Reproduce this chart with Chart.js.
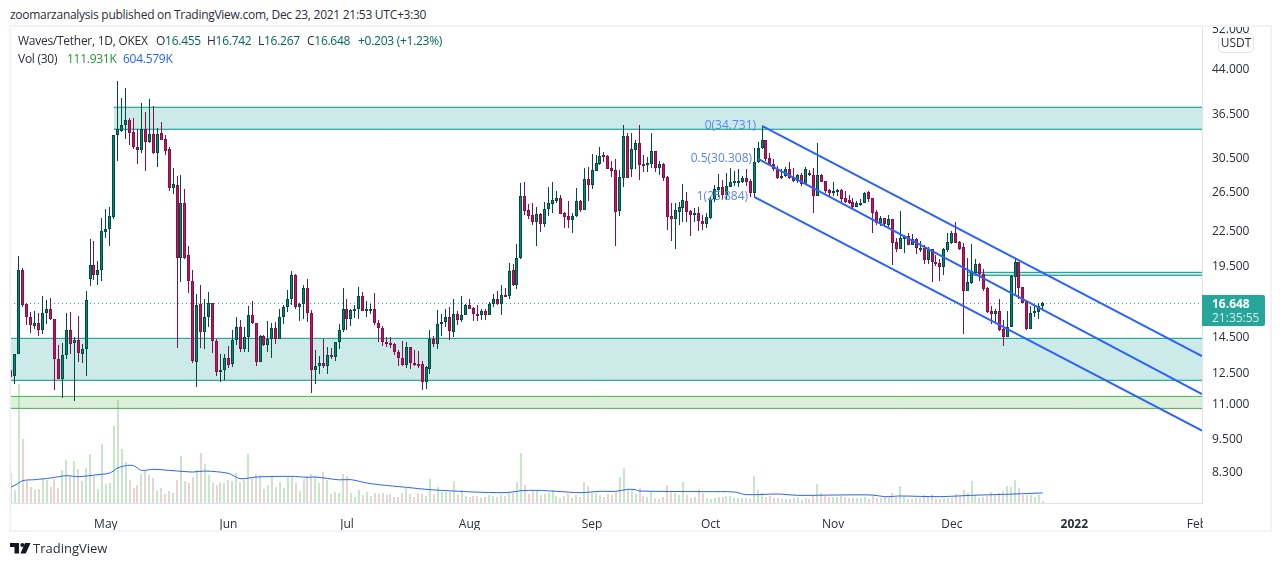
<!DOCTYPE html>
<html>
<head>
<meta charset="utf-8">
<title>Waves/Tether</title>
<script src="https://cdn.jsdelivr.net/npm/chart.js@4"></script>
<style>
  html, body { margin: 0; padding: 0; background: #fff; }
  body { width: 1280px; height: 566px; position: relative; overflow: hidden; font-family: "Open Sans", sans-serif; color: #2a2e39; }
  canvas { position: absolute; left: 0; top: 0; }
  .t { position: absolute; white-space: nowrap; font-size: 12px; line-height: 16px; }
  .n { letter-spacing: -0.27px; }
  #cover-top { position: absolute; left: 0; top: 0; width: 1280px; height: 27px; background: #fff; }
  #cover-feb { position: absolute; left: 1203px; top: 504px; width: 66px; height: 25px; background: #fff; }
  #frame { position: absolute; left: 9px; top: 25px; width: 1259px; height: 503px; border: 2px solid #f0f3fa; pointer-events: none; }
  #usdt { position: absolute; left: 1218px; top: 33px; width: 34px; height: 18px; border: 1px solid #e0e3eb; border-radius: 5px; background: #fff; font-size: 12px; line-height: 18px; text-align: center; }
  #tag { position: absolute; left: 1202px; top: 295px; width: 63px; height: 31px; background: #26a69a; border-radius: 0 2px 2px 0; }
</style>
</head>
<body>
<canvas id="chart" width="1280" height="566"></canvas>
<div id="cover-top"></div>
<div id="cover-feb"></div>
<div id="frame"></div>

<div class="t n" style="left:10px;top:7px">zoomarzanalysis published on TradingView.com, Dec 23, 2021 21:53 UTC+3:30</div>
<div class="t n" style="left:18px;top:33px">Waves/Tether, 1D, OKEX</div>
<div class="t n" style="left:156px;top:33px">O<span style="color:#00695c">16.455</span></div>
<div class="t n" style="left:207px;top:33px">H<span style="color:#00695c">16.742</span></div>
<div class="t n" style="left:258px;top:33px">L<span style="color:#00695c">16.267</span></div>
<div class="t n" style="left:307px;top:33px">C<span style="color:#00695c">16.648</span></div>
<div class="t n" style="left:358px;top:33px;color:#00695c">+0.203 (+1.23%)</div>
<div class="t n" style="left:18px;top:51px">Vol (30)</div>
<div class="t n" style="left:67px;top:51px;color:#22982f">111.931K</div>
<div class="t n" style="left:123px;top:51px;color:#2962ff">604.579K</div>

<div id="usdt">USDT</div>
<div id="tag"></div>
<div class="t" style="left:1212px;top:296px;color:#fff;font-weight:700">16.648</div>
<div class="t" style="left:1212px;top:310px;color:#d4eeeb">21:35:55</div>

<svg style="position:absolute;left:10px;top:543px" width="21" height="11" viewBox="0 0 21 11">
  <path fill="#131722" d="M0 0h9v10.5h-4.5v-6.5h-4.500z"/>
  <circle fill="#131722" cx="12.300" cy="2" r="2"/>
  <path fill="#131722" d="M15 0h5.500l-4.700 10.500h-5.400z"/>
</svg>
<div class="t" style="left:33px;top:540px;font-size:13px">TradingView</div>

<script>
// daily candles, oldest first; x is the day index
const opens = [
  12.63,12.33,13.53,19.16,16.60,15.71,15.17,15.38,14.94,16.01,
  16.24,15.58,13.25,12.20,13.47,14.94,14.14,14.30,13.53,13.81,
  18.44,19.49,18.72,19.16,22.42,22.62,23.84,33.40,34.00,34.82,
  35.55,33.87,31.78,31.43,34.25,32.53,33.54,31.00,33.73,32.85,
  31.52,26.89,27.15,20.14,25.20,20.31,18.31,13.07,16.58,14.80,
  15.77,16.65,14.28,12.54,12.66,13.30,12.98,14.34,15.13,13.80,
  14.46,15.90,15.38,13.07,14.54,14.04,14.40,15.03,14.40,15.71,
  16.44,16.93,18.72,16.42,16.60,17.72,16.03,12.66,12.86,13.03,
  12.86,13.47,13.34,14.22,14.94,16.24,15.58,16.15,16.24,17.20,
  16.15,16.21,16.30,15.38,15.06,14.22,14.12,14.06,13.64,13.30,
  12.91,13.93,13.03,12.98,12.93,12.03,12.70,14.40,14.08,15.32,
  15.43,15.77,14.80,15.97,15.53,15.90,16.51,16.32,15.93,15.84,
  16.12,15.90,16.63,16.99,16.58,17.27,17.18,19.16,17.99,20.06,
  25.94,24.48,23.97,23.35,24.07,23.12,24.58,25.17,25.50,25.73,
  24.17,23.87,23.55,23.90,25.41,24.54,27.83,27.23,28.85,29.70,
  30.75,30.62,29.13,28.89,24.41,27.98,33.31,29.09,31.43,32.31,
  29.66,29.62,29.66,31.26,29.17,29.66,28.10,23.87,23.61,24.34,
  24.75,25.41,24.41,24.11,24.21,23.45,23.12,23.71,25.62,26.63,
  26.93,26.08,26.93,27.49,27.56,27.56,27.94,27.60,26.33,29.86,
  31.65,32.72,30.37,29.66,28.89,27.98,28.22,29.05,28.06,27.64,
  28.34,27.30,28.57,28.34,26.01,28.34,27.60,26.63,26.37,26.41,
  26.63,25.73,25.52,25.34,24.82,25.20,25.27,26.41,25.73,24.27,
  23.19,23.68,23.09,23.58,21.44,20.88,21.77,22.04,21.23,21.71,
  20.91,20.91,19.92,20.83,19.81,19.68,19.38,20.80,21.41,22.28,
  21.50,21.00,17.54,18.14,18.92,19.60,18.84,17.74,16.12,15.95,
  16.12,14.96,14.50,15.11,18.59,19.73,17.79,16.72,15.00,16.01,
  16.10,16.455
]
const highs = [
  12.63,13.53,20.26,19.27,16.65,16.06,16.12,16.03,17.16,16.88,
  17.02,15.58,14.01,14.16,16.03,16.06,14.50,15.79,14.06,17.52,
  21.74,21.53,19.84,23.71,24.61,24.85,33.40,41.85,39.00,40.65,
  35.89,35.89,34.29,38.14,36.80,38.84,37.72,34.39,35.26,33.40,
  31.78,29.13,28.22,28.30,26.70,21.12,19.16,17.30,17.94,16.97,
  17.43,16.65,14.40,13.53,13.53,13.95,14.94,15.73,15.53,15.11,
  16.47,16.79,15.38,14.60,14.60,15.47,15.36,15.42,16.24,16.53,
  17.59,19.06,18.84,16.70,17.94,18.41,16.19,13.72,13.38,14.40,
  13.91,13.83,14.22,15.28,17.74,16.99,16.30,16.53,17.86,17.46,
  16.81,16.63,17.38,15.53,15.17,14.46,14.48,14.14,13.72,14.26,
  14.22,13.93,13.72,13.66,13.14,12.84,14.92,14.54,16.19,15.97,
  16.26,16.42,16.99,16.15,17.20,16.60,16.93,16.42,16.51,16.24,
  16.24,16.72,17.35,17.54,17.94,17.77,19.65,19.60,21.26,27.38,
  27.49,25.10,25.20,24.78,24.17,25.37,26.93,27.49,26.55,26.08,
  24.34,25.41,24.17,26.82,25.55,29.13,29.25,30.92,30.79,31.78,
  31.17,30.75,30.03,30.24,28.93,34.85,33.68,33.78,32.76,34.85,
  30.79,30.58,33.78,31.34,30.03,29.74,28.18,25.20,25.20,25.37,
  27.30,26.45,24.51,24.75,24.85,24.01,24.17,25.83,27.19,28.45,
  27.76,28.61,29.17,28.85,29.01,28.22,29.01,27.83,31.65,32.45,
  34.73,32.76,31.00,30.24,29.45,29.05,29.33,29.91,29.13,28.45,
  28.61,29.33,28.93,29.13,32.31,28.45,27.68,26.78,27.49,26.78,
  26.74,26.48,26.08,25.73,25.44,25.62,26.37,26.52,25.76,24.51,
  23.94,23.74,24.01,23.61,21.80,24.41,22.10,22.25,22.16,21.80,
  21.59,21.17,21.06,20.88,20.34,19.98,20.94,22.31,22.50,23.32,
  21.53,21.41,20.06,21.29,20.00,19.65,19.24,17.79,16.47,16.24,
  16.93,15.53,16.15,18.72,20.06,19.79,17.84,16.88,16.47,16.53,
  16.65,16.742
]
const lows = [
  12.28,11.95,13.53,16.42,15.21,14.74,14.96,14.54,14.70,15.32,
  15.53,11.62,12.20,11.26,13.25,13.49,11.12,13.07,13.02,12.33,
  17.91,18.34,17.96,18.28,21.86,21.15,23.64,30.07,33.87,32.95,
  32.09,31.56,29.70,31.09,28.85,32.40,30.92,29.33,32.76,30.79,
  26.55,26.19,13.85,18.21,20.03,17.40,13.01,11.79,13.83,13.81,
  15.11,13.57,12.33,12.03,12.11,12.72,12.80,14.00,13.62,13.62,
  13.62,15.32,12.86,13.07,13.95,13.62,13.30,14.06,14.40,15.32,
  16.08,16.53,16.24,15.49,15.64,15.42,11.47,11.92,12.42,12.77,
  12.42,13.23,13.12,13.80,14.80,14.90,15.17,15.68,15.62,16.15,
  15.75,15.92,15.24,14.20,13.95,13.91,13.83,13.45,12.86,12.87,
  12.72,12.70,12.87,12.77,11.62,11.69,12.42,13.89,13.80,14.54,
  15.11,14.34,14.46,15.24,15.43,15.86,16.24,15.49,15.49,15.53,
  15.53,15.88,16.42,16.56,15.90,17.18,16.95,17.89,17.66,20.00,
  24.04,23.64,23.03,21.15,22.37,22.87,23.90,24.17,25.20,24.07,
  22.75,22.72,22.31,23.84,24.31,24.51,25.44,26.70,28.77,29.53,
  29.95,29.01,28.10,21.15,23.90,27.00,27.98,28.06,29.01,27.76,
  28.73,28.73,29.13,28.73,28.34,27.64,22.56,21.56,20.85,23.03,
  23.35,23.35,22.01,23.35,22.47,22.56,22.78,23.61,25.37,25.90,
  25.69,25.62,26.93,27.08,27.00,27.45,27.08,25.90,25.83,29.82,
  31.56,30.03,29.49,28.85,27.87,27.83,28.06,27.83,27.49,27.38,
  27.08,27.19,28.22,24.24,25.97,27.53,26.26,25.90,26.01,26.01,
  25.34,25.27,25.17,24.48,24.78,24.93,25.24,25.37,22.31,23.03,
  22.97,23.09,22.87,19.51,20.63,20.85,20.54,21.17,21.17,20.46,
  20.57,19.62,19.60,18.21,19.44,18.26,18.72,20.63,21.29,21.38,
  20.77,14.67,17.52,18.06,18.84,18.24,17.54,16.01,15.30,15.43,
  14.86,13.97,14.50,15.11,17.35,16.99,16.65,14.90,14.96,15.71,
  15.62,16.267
]
const closes = [
  12.28,13.53,19.16,16.54,15.71,15.21,15.38,14.94,16.03,16.24,
  15.58,13.25,12.20,13.47,14.94,14.10,14.30,13.57,13.81,16.88,
  19.49,18.72,19.16,22.44,22.62,23.87,33.40,34.25,34.82,35.55,
  33.78,31.78,31.43,34.25,32.53,33.54,31.00,33.54,32.81,31.34,
  26.89,27.27,20.14,25.20,20.14,18.31,13.12,16.51,14.80,15.77,
  16.65,14.26,12.54,12.66,13.30,12.91,14.34,15.13,13.80,14.46,
  15.90,15.36,13.07,14.54,14.00,14.40,15.03,14.40,15.71,16.44,
  16.93,18.72,16.42,16.60,17.72,16.03,12.66,12.87,13.03,12.86,
  13.45,13.32,14.22,14.94,16.24,15.62,16.19,16.24,17.20,16.17,
  16.30,16.30,15.36,15.04,14.20,14.08,14.02,13.62,13.28,12.91,
  13.93,13.02,12.96,12.93,12.03,12.79,14.38,14.08,15.32,15.45,
  15.77,14.86,15.97,15.53,15.90,16.51,16.28,15.97,15.86,16.12,
  15.86,16.63,16.99,16.60,17.25,17.20,19.08,17.94,20.06,25.94,
  24.44,23.94,23.35,24.07,23.12,24.58,25.20,25.52,25.73,24.14,
  23.84,23.55,23.87,25.41,24.54,27.83,27.23,28.89,29.74,30.62,
  30.54,29.09,28.85,24.34,28.06,33.31,27.98,31.52,32.31,29.53,
  29.41,29.78,31.30,29.17,29.66,28.02,23.84,23.61,24.51,24.82,
  25.55,24.34,24.01,24.17,23.45,23.12,23.81,25.65,26.70,26.93,
  26.08,27.04,27.49,27.64,27.64,27.98,27.49,26.33,29.86,31.65,
  32.72,30.24,29.58,29.05,28.02,28.22,29.09,27.98,27.68,28.34,
  27.30,29.09,28.30,26.01,28.34,27.56,26.55,26.30,26.52,26.63,
  25.65,25.34,25.24,24.82,25.24,25.27,26.30,25.65,24.24,23.19,
  23.68,23.16,23.58,21.41,20.88,21.80,21.95,21.23,21.71,20.91,
  20.97,19.95,20.83,19.79,19.62,19.38,20.83,21.44,22.28,21.41,
  20.88,17.54,18.16,19.06,19.60,18.84,17.69,16.06,15.95,16.12,
  14.92,14.50,15.13,18.64,19.73,17.76,16.70,14.96,16.03,16.12,
  16.47,16.648
]
// volume in thousands
const volumes = [
  1800,800,7140,3860,1340,980,800,860,1500,1360,
  980,1460,920,2000,2600,1600,2540,2060,1340,2120,
  2960,1640,860,3560,1160,1220,4640,6200,3260,2480,
  1400,920,1100,1760,1940,1700,1520,740,920,560,
  740,620,1400,2840,1340,1220,1580,2000,3020,2360,
  1700,1220,1100,1220,1220,1400,1340,1820,1280,1400,
  2960,1520,1760,1700,860,1100,1640,980,1280,920,
  1580,1580,1220,740,1460,1640,1760,1640,1220,1880,
  1400,560,680,620,1760,1640,600,380,800,500,
  680,440,620,560,620,500,560,380,380,620,
  920,560,380,620,560,440,1460,560,980,680,
  680,660,1340,500,780,440,380,440,440,320,
  380,500,440,380,500,440,600,620,1280,3020,
  1100,560,740,800,500,560,620,800,440,320,
  440,560,320,500,380,1280,1040,620,620,500,
  380,560,500,680,1580,2120,800,800,560,920,
  440,380,680,320,260,380,1100,680,620,500,
  1240,500,320,380,860,620,280,260,320,380,
  380,440,440,320,320,320,300,260,1640,800,
  620,380,440,320,320,260,260,260,320,380,
  200,320,260,500,1160,620,440,380,380,380,
  440,380,320,320,320,320,380,260,500,320,
  320,380,380,620,380,1040,380,260,260,320,
  320,500,440,560,260,260,320,320,320,560,
  440,800,620,1340,500,320,380,440,680,500,
  620,740,1040,980,1400,920,500,500,500,380,
  500,111.93
]
// Vol (30) average, read at the bends of the line
const volMaDays = [0,1,3,6,10,14,17,22,25,27,29,31,33,36,41,46,49,55,58,62,71,75,77,83,86,90,93,100,106,112,117,125,128,129,133,138,144,149,153,156,158,159,169,176,183,186,194,199,209,218,221,225,235,243,254,261]
const volMa = [960,1060,1340,1400,1500,1640,1580,1700,1800,2100,2240,2240,1960,2020,1940,1860,1920,1780,1460,1560,1600,1540,1560,1390,1400,1200,1100,940,800,720,660,620,700,740,760,700,620,700,700,820,800,720,690,680,660,500,540,460,480,480,380,420,380,460,540,604.58]

const monthTicks = [24,55,85,116,147,177,208,238,269,300]
const monthLabels = ["May","Jun","Jul","Aug","Sep","Oct","Nov","Dec","2022","Feb"]
const priceTicks = [8.3,9.5,11,12.5,14.5,19.5,22.5,26.5,30.5,36.5,44,52]
const lastPrice = 16.648

// [start day, top price, bottom price]
const tealBands = [[26,37.53,34.26],[-1,14.41,12.11],[242,18.94,18.71]]
const greenBands = [[-1,11.33,10.78]]

// fib channel, level line from its anchor day to the right edge
const fibLabels = ["0(34.731)","0.5(30.308)","1(25.884)"]
const fibDays = [190,189,188]
const fibPrices = [34.731,30.308,25.884]
const fibEndPrices = [13.39,11.44,9.83]

const xMin = -0.25
const xMax = 301.3

const UP = "#00897b", UP_DARK = "#004d40"
const DOWN = "#c2185b", DOWN_DARK = "#880e4f"
const isUp = i => closes[i] >= opens[i]
const days = opens.map((_, i) => i)

function bandDatasets(band, color, fillColor) {
  const line = price => [{ x: band[0], y: price }, { x: xMax, y: price }]
  const common = { type: "line", borderColor: color, borderWidth: 1, pointRadius: 0, order: 9 }
  return [
    { ...common, data: line(band[1]), fill: "+1", backgroundColor: fillColor },
    { ...common, data: line(band[2]), fill: false }
  ]
}

// snap bars to whole pixels so wicks stay one pixel wide
const snapBars = {
  id: "snapBars",
  afterDatasetsUpdate(chart) {
    chart.getSortedVisibleDatasetMetas().forEach(meta => {
      if (meta.type !== "bar") return
      meta.data.forEach(el => {
        el.x = Math.round(el.x - el.width / 2) + el.width / 2
        el.y = Math.round(el.y)
        el.base = Math.round(el.base)
        if (el.width > 1 && Math.abs(el.base - el.y) < 2) el.base = el.y + 2
      })
    })
  }
}

const fibText = {
  id: "fibText",
  afterDatasetsDraw(chart) {
    const { ctx, scales } = chart
    ctx.save()
    ctx.font = "12px 'Open Sans'"
    ctx.fillStyle = "#5a82fa"
    ctx.textAlign = "right"
    ctx.textBaseline = "middle"
    fibLabels.forEach((label, i) => {
      ctx.fillText(label, scales.x.getPixelForValue(fibDays[i]) - 6, scales.y.getPixelForValue(fibPrices[i]))
    })
    ctx.restore()
  }
}

new Chart(document.getElementById("chart"), {
  type: "bar",
  plugins: [snapBars, fibText],
  data: {
    datasets: [
      {
        yAxisID: "vol",
        order: 10,
        grouped: false,
        barThickness: 2,
        inflateAmount: 0,
        data: days.map(i => ({ x: i, y: volumes[i] })),
        backgroundColor: days.map(i => isUp(i) ? "#c8e6c9" : "#e8d3d5")
      },
      ...tealBands.flatMap(b => bandDatasets(b, "#009688", "rgba(0,150,136,0.2)")),
      ...greenBands.flatMap(b => bandDatasets(b, "#4caf50", "rgba(76,175,80,0.2)")),
      {
        type: "line",
        order: 8,
        data: [{ x: xMin, y: lastPrice }, { x: xMax, y: lastPrice }],
        borderColor: "#26a69a",
        borderWidth: 1,
        borderDash: [1, 3],
        pointRadius: 0
      },
      {
        order: 5,
        grouped: false,
        barThickness: 1,
        inflateAmount: 0,
        data: days.map(i => ({ x: i, y: [lows[i], highs[i]] })),
        backgroundColor: days.map(i => isUp(i) ? UP_DARK : DOWN_DARK)
      },
      {
        order: 4,
        grouped: false,
        barThickness: 3,
        borderWidth: 1,
        borderSkipped: false,
        inflateAmount: 0,
        data: days.map(i => ({ x: i, y: [Math.min(opens[i], closes[i]), Math.max(opens[i], closes[i])] })),
        backgroundColor: days.map(i => isUp(i) ? UP : DOWN),
        borderColor: days.map(i => isUp(i) ? UP_DARK : DOWN_DARK)
      },
      {
        type: "line",
        yAxisID: "vol",
        order: 2,
        data: volMaDays.map((d, i) => ({ x: d, y: volMa[i] })),
        borderColor: "#2962ff",
        borderWidth: 1,
        pointRadius: 0,
        tension: 0.3
      },
      ...fibDays.map((d, i) => ({
        type: "line",
        order: 1,
        data: [{ x: d, y: fibPrices[i] }, { x: xMax, y: fibEndPrices[i] }],
        borderColor: "#2962ff",
        borderWidth: 2,
        pointRadius: 0
      }))
    ]
  },
  options: {
    responsive: false,
    animation: false,
    devicePixelRatio: 1,
    layout: { padding: { left: 10, top: 27, right: 0, bottom: 36 } },
    plugins: { legend: { display: false }, tooltip: { enabled: false } },
    scales: {
      x: {
        type: "linear",
        offset: false,
        min: xMin,
        max: xMax,
        grid: { display: false },
        border: { color: "#e0e3eb" },
        afterBuildTicks(s) { s.ticks = monthTicks.map(v => ({ value: v })) },
        afterFit(s) { s.height = 27 },
        ticks: {
          autoSkip: false,
          maxRotation: 0,
          padding: 6,
          color: "#2a2e39",
          font: ctx => ({ family: "Open Sans", size: 12, weight: ctx.tick && ctx.tick.value === 269 ? "bold" : "normal" }),
          callback: v => monthLabels[monthTicks.indexOf(v)]
        }
      },
      y: {
        type: "logarithmic",
        position: "right",
        min: 7.285,
        max: 52.33,
        grid: { display: false, drawTicks: false },
        border: { color: "#e0e3eb" },
        afterBuildTicks(s) { s.ticks = priceTicks.map(v => ({ value: v })) },
        afterFit(s) { s.width = 78 },
        ticks: {
          padding: 10,
          labelOffset: 1,
          color: "#2a2e39",
          font: { family: "Open Sans", size: 12 },
          callback: v => v.toFixed(3)
        }
      },
      vol: { type: "linear", display: false, min: 0, max: 28560 }
    }
  }
})
</script>
</body>
</html>
